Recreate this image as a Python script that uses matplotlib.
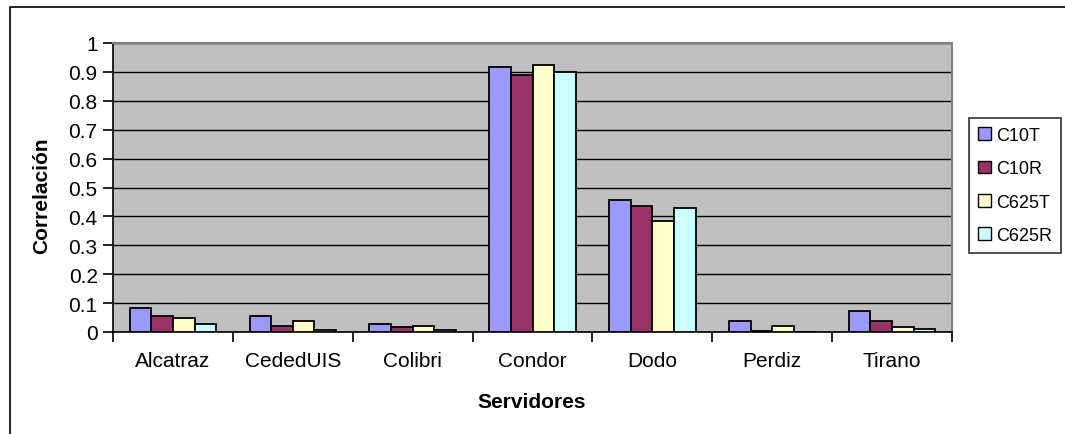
import matplotlib
matplotlib.use("Agg")
import matplotlib.pyplot as plt
from matplotlib.patches import Rectangle
import numpy as np

plt.rcParams['font.family'] = ['Liberation Sans', 'DejaVu Sans']

categories = ["Alcatraz", "CededUIS", "Colibri", "Condor", "Dodo", "Perdiz", "Tirano"]
series_names = ["C10T", "C10R", "C625T", "C625R"]
c10t = [0.084, 0.055, 0.026, 0.918, 0.456, 0.039, 0.072]
c10r = [0.055, 0.022, 0.016, 0.888, 0.435, 0.004, 0.039]
c625t = [0.049, 0.039, 0.022, 0.923, 0.384, 0.022, 0.016]
c625r = [0.029, 0.007, 0.007, 0.900, 0.428, 0.0, 0.011]
series = [c10t, c10r, c625t, c625r]
colors = ["#9999FF", "#993366", "#FFFFCC", "#CCFFFF"]
yticks = [0, 0.1, 0.2, 0.3, 0.4, 0.5, 0.6, 0.7, 0.8, 0.9, 1]
ytick_labels = ["0", "0.1", "0.2", "0.3", "0.4", "0.5", "0.6", "0.7", "0.8", "0.9", "1"]

W, H = 1065, 435
fig = plt.figure(figsize=(W / 100, H / 100), dpi=100)
fig.patch.set_facecolor("white")

# outer chart-area frame (extends beyond right/bottom edge)
fig.add_artist(Rectangle((10 / W, -0.1), 1.2, 1 - 8 / H + 0.1, transform=fig.transFigure,
                         fill=False, edgecolor="black", linewidth=1.2))

ax = fig.add_axes([113 / W, (H - 333) / H, (952 - 113) / W, (333 - 44) / H])
ax.set_facecolor("#C0C0C0")

x = np.arange(len(categories)) + 0.5
bw = 0.18
for i, (vals, name, col) in enumerate(zip(series, series_names, colors)):
    ax.bar(x + (i - 1.5) * bw, vals, width=bw, color=col, edgecolor="black",
           linewidth=1.3, label=name, zorder=3)

ax.set_xlim(0, len(categories))
ax.set_ylim(0, 1)
ax.set_yticks(yticks)
ax.set_yticklabels(ytick_labels)
ax.yaxis.grid(True, color="black", linewidth=1.0, zorder=1)
ax.set_axisbelow(True)

ax.set_xticks(np.arange(len(categories) + 1))
ax.set_xticklabels([])
ax.set_xticks(x, minor=True)
ax.set_xticklabels(categories, minor=True)
ax.tick_params(axis="x", which="minor", length=0, pad=14, labelsize=15)
ax.tick_params(axis="x", which="major", length=7, width=1.2, direction="out")
ax.tick_params(axis="y", length=7, width=1.2, direction="out", pad=4, labelsize=15)

for s in ["top", "right"]:
    ax.spines[s].set_color("#808080")
    ax.spines[s].set_linewidth(1.5)
for s in ["left", "bottom"]:
    ax.spines[s].set_color("black")
    ax.spines[s].set_linewidth(1.2)

fig.text(42 / W, 1 - 196 / H, "Correlación", rotation=90, ha="center", va="center",
         fontsize=15, fontweight="bold")
fig.text(532 / W, 1 - 403 / H, "Servidores", ha="center", va="center",
         fontsize=15, fontweight="bold")

leg = ax.legend(loc="upper left", bbox_to_anchor=(969 / W, 1 - 119 / H),
                bbox_transform=fig.transFigure, borderaxespad=0, fontsize=13,
                handlelength=0.72, handleheight=0.72, handletextpad=0.3,
                labelspacing=0.9, borderpad=0.5, fancybox=False, frameon=True)
leg.get_frame().set_edgecolor("black")
leg.get_frame().set_linewidth(1.2)
for p in leg.get_patches():
    p.set_linewidth(1.0)

fig.savefig("out.png", dpi=100)
